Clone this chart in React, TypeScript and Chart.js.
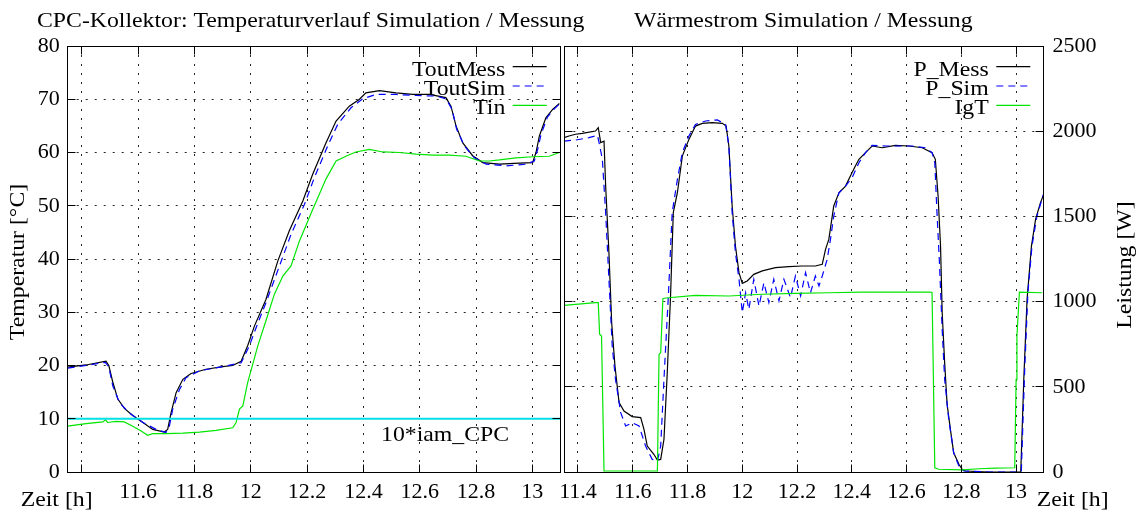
import React, { useEffect, useRef } from 'react';
import { Chart, registerables } from 'chart.js';

Chart.register(...registerables);

// ---------------- data ----------------
const X_MIN = 11.35;
const X_MAX = 13.1;
const xTickValues = [11.4, 11.6, 11.8, 12, 12.2, 12.4, 12.6, 12.8, 13];
const tempTickValues = [0, 10, 20, 30, 40, 50, 60, 70, 80];
const powerTickValues = [0, 500, 1000, 1500, 2000, 2500];

const leftTitle = 'CPC-Kollektor: Temperaturverlauf Simulation / Messung';
const rightTitle = 'Wärmestrom Simulation / Messung';
const leftYLabel = 'Temperatur [°C]';
const rightYLabel = 'Leistung [W]';
const xLabel = 'Zeit [h]';
const iamLabel = '10*iam_CPC';
const leftLegend = ['ToutMess', 'ToutSim', 'Tin'];
const rightLegend = ['P_Mess', 'P_Sim', 'IgT'];

const toutMessT = [11.35, 11.415, 11.486, 11.496, 11.51, 11.528, 11.552, 11.581, 11.617, 11.652, 11.693, 11.705, 11.717, 11.735, 11.759, 11.788, 11.841, 11.901, 11.936, 11.966, 11.989, 12.013, 12.054, 12.096, 12.137, 12.185, 12.22, 12.267, 12.303, 12.35, 12.386, 12.409, 12.457, 12.516, 12.575, 12.634, 12.693, 12.711, 12.729, 12.753, 12.788, 12.824, 12.883, 12.954, 13.001, 13.013, 13.025, 13.048, 13.072, 13.096];
const toutMessV = [19.7, 20.1, 20.8, 20.0, 16.9, 13.7, 11.9, 10.6, 9.3, 8.0, 7.5, 8.0, 11.1, 14.9, 17.4, 18.5, 19.3, 19.8, 20.0, 20.8, 23.7, 27.4, 32.4, 39.6, 45.3, 50.9, 55.9, 61.8, 65.9, 68.7, 70.0, 71.2, 71.6, 71.2, 70.9, 70.9, 70.3, 68.7, 65.0, 61.8, 59.4, 58.1, 57.8, 58.0, 58.1, 60.0, 63.1, 66.5, 68.1, 69.2];

const toutSimT = [11.35, 11.415, 11.484, 11.496, 11.51, 11.534, 11.569, 11.617, 11.664, 11.699, 11.711, 11.723, 11.747, 11.77, 11.818, 11.901, 11.966, 11.995, 12.019, 12.054, 12.102, 12.143, 12.191, 12.226, 12.273, 12.309, 12.356, 12.398, 12.445, 12.516, 12.587, 12.658, 12.693, 12.715, 12.731, 12.759, 12.794, 12.836, 12.907, 12.978, 13.007, 13.019, 13.031, 13.054, 13.078, 13.096];
const toutSimV = [19.5, 20.0, 20.6, 19.7, 16.2, 13.0, 11.1, 9.3, 8.0, 7.4, 8.6, 11.8, 15.5, 17.7, 19.0, 19.8, 20.5, 23.7, 27.1, 31.8, 38.7, 44.6, 50.3, 55.3, 61.2, 65.3, 68.4, 70.1, 70.9, 70.9, 70.7, 70.6, 70.1, 68.1, 64.4, 61.2, 59.0, 57.8, 57.5, 57.8, 58.4, 60.6, 63.4, 66.7, 68.2, 69.1];

const tinT = [11.345, 11.35, 11.415, 11.475, 11.484, 11.492, 11.522, 11.551, 11.581, 11.611, 11.634, 11.652, 11.699, 11.759, 11.818, 11.877, 11.936, 11.948, 11.96, 11.972, 11.989, 12.007, 12.025, 12.054, 12.084, 12.114, 12.143, 12.173, 12.22, 12.267, 12.303, 12.338, 12.373, 12.421, 12.469, 12.528, 12.587, 12.646, 12.705, 12.764, 12.812, 12.847, 12.883, 12.942, 13.001, 13.06, 13.096];
const tinV = [8.5, 8.6, 9.1, 9.4, 9.8, 9.3, 9.5, 9.4, 8.6, 7.7, 6.9, 7.2, 7.2, 7.3, 7.5, 7.8, 8.3, 9.3, 11.8, 12.4, 16.8, 20.2, 23.7, 28.4, 33.4, 36.8, 38.7, 43.4, 49.3, 55.0, 58.4, 59.3, 60.1, 60.6, 60.1, 60.0, 59.7, 59.5, 59.5, 59.3, 58.4, 58.4, 58.6, 59.0, 59.2, 59.3, 60.0];

const iamT = [11.35, 13.1];
const iamV = [10, 10];

const pMessT = [11.349, 11.367, 11.391, 11.416, 11.464, 11.474, 11.483, 11.495, 11.501, 11.513, 11.523, 11.535, 11.55, 11.568, 11.598, 11.629, 11.641, 11.653, 11.677, 11.69, 11.702, 11.714, 11.726, 11.738, 11.748, 11.763, 11.781, 11.805, 11.829, 11.854, 11.89, 11.927, 11.941, 11.951, 11.963, 11.975, 11.988, 12.0, 12.018, 12.042, 12.073, 12.121, 12.17, 12.219, 12.267, 12.292, 12.304, 12.316, 12.334, 12.353, 12.377, 12.401, 12.413, 12.426, 12.45, 12.474, 12.511, 12.559, 12.608, 12.657, 12.693, 12.705, 12.715, 12.724, 12.73, 12.739, 12.748, 12.76, 12.772, 12.791, 12.803, 12.815, 12.9, 13.009, 13.017, 13.028, 13.04, 13.056, 13.071, 13.089, 13.101];
const pMessV = [1962, 1972, 1982, 1987, 2001, 2021, 1933, 1942, 1678, 1287, 876, 622, 407, 358, 325, 319, 250, 152, 104, 70, 74, 192, 583, 1033, 1522, 1639, 1854, 1952, 2030, 2046, 2050, 2046, 2030, 1913, 1561, 1326, 1170, 1107, 1121, 1160, 1180, 1199, 1205, 1209, 1209, 1219, 1307, 1365, 1561, 1639, 1678, 1757, 1796, 1835, 1874, 1913, 1903, 1917, 1913, 1903, 1874, 1835, 1620, 1326, 935, 642, 397, 250, 113, 45, 16, 6, 0, 0, 0, 544, 1013, 1326, 1483, 1581, 1630];

const pSimT = [11.349, 11.391, 11.44, 11.471, 11.477, 11.489, 11.501, 11.513, 11.525, 11.537, 11.556, 11.574, 11.598, 11.623, 11.647, 11.671, 11.69, 11.702, 11.714, 11.73, 11.744, 11.763, 11.781, 11.805, 11.829, 11.866, 11.909, 11.939, 11.951, 11.963, 11.975, 11.988, 12.0, 12.012, 12.024, 12.042, 12.061, 12.079, 12.097, 12.115, 12.134, 12.152, 12.176, 12.194, 12.213, 12.231, 12.249, 12.267, 12.28, 12.292, 12.31, 12.322, 12.334, 12.353, 12.377, 12.401, 12.426, 12.45, 12.474, 12.523, 12.572, 12.62, 12.669, 12.693, 12.703, 12.711, 12.72, 12.73, 12.739, 12.754, 12.772, 12.791, 12.809, 12.9, 13.012, 13.019, 13.031, 13.043, 13.058, 13.076, 13.1];
const pSimV = [1942, 1948, 1962, 1976, 1933, 1835, 1522, 1131, 739, 544, 348, 270, 289, 270, 152, 74, 64, 152, 544, 1033, 1522, 1717, 1874, 1972, 2040, 2060, 2066, 2040, 1913, 1522, 1287, 1131, 935, 1052, 955, 1131, 974, 1111, 994, 1131, 1004, 1131, 1023, 1150, 1033, 1170, 1052, 1150, 1092, 1150, 1248, 1365, 1502, 1639, 1678, 1727, 1815, 1874, 1917, 1913, 1913, 1913, 1903, 1874, 1815, 1522, 1228, 837, 544, 309, 113, 35, 6, 0, 0, 0, 587, 1052, 1326, 1502, 1630];

const igtT = [11.345, 11.349, 11.464, 11.474, 11.479, 11.486, 11.495, 11.586, 11.69, 11.696, 11.702, 11.71, 11.72, 11.829, 11.951, 12.073, 12.194, 12.316, 12.438, 12.559, 12.687, 12.693, 12.703, 12.717, 12.803, 12.864, 12.924, 12.995, 13.0, 13.003, 13.012, 13.095];
const igtV = [974, 978, 994, 994, 808, 798, 6, 6, 6, 690, 700, 1017, 1021, 1037, 1033, 1043, 1048, 1052, 1056, 1056, 1056, 1052, 25, 16, 12, 19, 23, 25, 544, 798, 1056, 1052];

// ---------------- styling ----------------
const FONT = 'Liberation Serif';
const FONT_SIZE = 22;
const TEXT_SX = 1.08;
const C_BLACK = '#000000';
const C_BLUE = '#0000ff';
const C_GREEN = '#00e600';
const C_CYAN = '#00e0e6';
const PAGE_H = 514;

const pts = (t: number[], v: number[]) => t.map((x, i) => ({ x, y: v[i] }));
const fmt = (v: number) => String(Number(v.toFixed(1)));
const crisp = (p: number) => Math.round(p - 0.5) + 0.5;

function drawText(ctx: CanvasRenderingContext2D, s: string, x: number, y: number, align: CanvasTextAlign, baseline: CanvasTextBaseline = 'alphabetic', rotate = false) {
  ctx.save();
  ctx.translate(x, y);
  if (rotate) ctx.rotate(-Math.PI / 2);
  ctx.scale(TEXT_SX, 1);
  ctx.font = `${FONT_SIZE}px "${FONT}"`;
  ctx.fillStyle = '#000';
  ctx.textAlign = align;
  ctx.textBaseline = baseline;
  ctx.fillText(s, 0, 0);
  ctx.restore();
}

type TextItem = { s: string; x: number; y: number; align: CanvasTextAlign; baseline?: CanvasTextBaseline; rotate?: boolean };
type DecorOpts = {
  offsetX: number;
  texts: TextItem[];
  legendLabels: string[];
  legendTextRight: number;
  legendLineX0: number;
  legendLineX1: number;
  legendLineY: number[];
};

function decorPlugin(o: DecorOpts) {
  return {
    id: 'decor',
    beforeDatasetsDraw(chart: any) {
      const { ctx, chartArea: a } = chart;
      const xs = chart.scales.x;
      const ys = chart.scales.y;
      ctx.save();
      ctx.strokeStyle = 'rgba(0,0,0,0.85)';
      ctx.lineWidth = 1;
      ctx.setLineDash([2, 7]);
      xs.ticks.forEach((t: any) => {
        const px = crisp(xs.getPixelForValue(t.value));
        ctx.beginPath();
        ctx.moveTo(px, a.top);
        ctx.lineTo(px, a.bottom);
        ctx.stroke();
      });
      ys.ticks.forEach((t: any) => {
        const py = crisp(ys.getPixelForValue(t.value));
        if (py < a.top + 2 || py > a.bottom - 2) return;
        ctx.beginPath();
        ctx.moveTo(a.left, py);
        ctx.lineTo(a.right, py);
        ctx.stroke();
      });
      ctx.restore();
    },
    afterDatasetsDraw(chart: any) {
      const { ctx, chartArea: a } = chart;
      const xs = chart.scales.x;
      const ys = chart.scales.y;
      const L = crisp(a.left), R = crisp(a.right), T = crisp(a.top), B = crisp(a.bottom);
      ctx.save();
      ctx.strokeStyle = '#000';
      ctx.lineWidth = 1;
      ctx.setLineDash([]);
      ctx.strokeRect(L, T, R - L, B - T);
      const tl = 8;
      xs.ticks.forEach((t: any) => {
        const px = crisp(xs.getPixelForValue(t.value));
        ctx.beginPath();
        ctx.moveTo(px, B); ctx.lineTo(px, B - tl);
        ctx.moveTo(px, T); ctx.lineTo(px, T + tl);
        ctx.stroke();
      });
      ys.ticks.forEach((t: any) => {
        const py = crisp(ys.getPixelForValue(t.value));
        ctx.beginPath();
        ctx.moveTo(L, py); ctx.lineTo(L + tl, py);
        ctx.moveTo(R, py); ctx.lineTo(R - tl, py);
        ctx.stroke();
      });
      // legend
      chart.data.datasets.slice(0, o.legendLabels.length).forEach((ds: any, i: number) => {
        const y = o.legendLineY[i];
        drawText(ctx, o.legendLabels[i], o.legendTextRight - o.offsetX, y + 8.8, 'right');
        ctx.save();
        ctx.strokeStyle = ds.borderColor;
        ctx.lineWidth = ds.borderWidth;
        ctx.setLineDash(ds.borderDash || []);
        ctx.beginPath();
        ctx.moveTo(o.legendLineX0 - o.offsetX, y);
        ctx.lineTo(o.legendLineX1 - o.offsetX, y);
        ctx.stroke();
        ctx.restore();
      });
      ctx.restore();
      o.texts.forEach((t) => drawText(ctx, t.s, t.x - o.offsetX, t.y, t.align, t.baseline || 'alphabetic', !!t.rotate));
    },
  };
}

const tickFont = { family: FONT, size: FONT_SIZE };

function makeX(hideFirst: boolean) {
  return {
    type: 'linear',
    min: X_MIN,
    max: X_MAX,
    afterBuildTicks: (s: any) => { s.ticks = xTickValues.map((value) => ({ value })); },
    afterFit: (s: any) => { s.height = 42; },
    grid: { display: false, drawTicks: false },
    border: { display: false },
    ticks: {
      padding: 7,
      color: '#000',
      font: tickFont,
      autoSkip: false,
      maxRotation: 0,
      minRotation: 0,
      callback: (v: number) => (hideFirst && v === xTickValues[0] ? '' : fmt(v)),
    },
  };
}

const LEFT_CANVAS = { x: 0, w: 600 };
const RIGHT_CANVAS = { x: 540, w: 599 };
const LEFT_PLOT = { left: 67.7, right: 560.5 };
const RIGHT_PLOT = { left: 564.3, right: 1043.5 };

export default function App() {
  const leftRef = useRef<HTMLCanvasElement>(null);
  const rightRef = useRef<HTMLCanvasElement>(null);

  useEffect(() => {
    const lineDs = (label: string, t: number[], v: number[], color: string, width: number, order: number, dash?: number[]) => ({
      label,
      data: pts(t, v),
      borderColor: color,
      backgroundColor: color,
      borderWidth: width,
      borderDash: dash || [],
      pointRadius: 0,
      tension: 0,
      fill: false,
      order,
    });

    const left = new Chart(leftRef.current as HTMLCanvasElement, {
      type: 'line',
      data: {
        datasets: [
          lineDs(leftLegend[0], toutMessT, toutMessV, C_BLACK, 1.2, 4),
          lineDs(leftLegend[1], toutSimT, toutSimV, C_BLUE, 1.2, 3, [7, 5]),
          lineDs(leftLegend[2], tinT, tinV, C_GREEN, 1.2, 2),
          lineDs(iamLabel, iamT, iamV, C_CYAN, 2, 1),
        ],
      },
      options: {
        animation: false,
        responsive: false,
        devicePixelRatio: 1,
        layout: { padding: { left: 0, right: LEFT_CANVAS.w - LEFT_PLOT.right, top: 46, bottom: 0 } },
        plugins: { legend: { display: false }, title: { display: false }, tooltip: { enabled: false } },
        scales: {
          x: makeX(true),
          y: {
            type: 'linear',
            min: 0,
            max: 80,
            afterBuildTicks: (s: any) => { s.ticks = tempTickValues.map((value) => ({ value })); },
            afterFit: (s: any) => { s.width = LEFT_PLOT.left - LEFT_CANVAS.x; },
            grid: { display: false, drawTicks: false },
            border: { display: false },
            ticks: { padding: 8, color: '#000', font: tickFont, callback: (v: number) => String(v) },
          },
        },
      } as any,
      plugins: [
        decorPlugin({
          offsetX: LEFT_CANVAS.x,
          texts: [
            { s: leftTitle, x: 37, y: 26.5, align: 'left' },
            { s: leftYLabel, x: 18, y: 262, align: 'center', baseline: 'middle', rotate: true },
            { s: xLabel, x: 20.7, y: 506, align: 'left' },
            { s: iamLabel, x: 381, y: 441, align: 'left' },
          ],
          legendLabels: leftLegend,
          legendTextRight: 505.3,
          legendLineX0: 512.7,
          legendLineX1: 546.7,
          legendLineY: [66.7, 86, 105.3],
        }),
      ],
    });

    const right = new Chart(rightRef.current as HTMLCanvasElement, {
      type: 'line',
      data: {
        datasets: [
          lineDs(rightLegend[0], pMessT, pMessV, C_BLACK, 1.2, 3),
          lineDs(rightLegend[1], pSimT, pSimV, C_BLUE, 1.2, 2, [7, 5]),
          lineDs(rightLegend[2], igtT, igtV, C_GREEN, 1.2, 1),
        ],
      },
      options: {
        animation: false,
        responsive: false,
        devicePixelRatio: 1,
        layout: { padding: { left: RIGHT_PLOT.left - RIGHT_CANVAS.x, right: 0, top: 46, bottom: 0 } },
        plugins: { legend: { display: false }, title: { display: false }, tooltip: { enabled: false } },
        scales: {
          x: makeX(false),
          y: {
            type: 'linear',
            position: 'right',
            min: 0,
            max: 2500,
            afterBuildTicks: (s: any) => { s.ticks = powerTickValues.map((value) => ({ value })); },
            afterFit: (s: any) => { s.width = RIGHT_CANVAS.x + RIGHT_CANVAS.w - RIGHT_PLOT.right; },
            grid: { display: false, drawTicks: false },
            border: { display: false },
            ticks: { padding: 9, color: '#000', font: tickFont, callback: (v: number) => String(v) },
          },
        },
      } as any,
      plugins: [
        decorPlugin({
          offsetX: RIGHT_CANVAS.x,
          texts: [
            { s: rightTitle, x: 634, y: 26.5, align: 'left' },
            { s: rightYLabel, x: 1125, y: 265, align: 'center', baseline: 'middle', rotate: true },
            { s: xLabel, x: 1036.7, y: 506, align: 'left' },
          ],
          legendLabels: rightLegend,
          legendTextRight: 988.7,
          legendLineX0: 996.3,
          legendLineX1: 1030.3,
          legendLineY: [66.7, 86, 105.3],
        }),
      ],
    });

    return () => {
      left.destroy();
      right.destroy();
    };
  }, []);

  return (
    <div style={{ position: 'fixed', left: 0, top: 0, width: 1139, height: PAGE_H, background: '#fff', overflow: 'hidden' }}>
      <canvas ref={leftRef} width={LEFT_CANVAS.w} height={PAGE_H} style={{ position: 'absolute', left: LEFT_CANVAS.x, top: 0, width: LEFT_CANVAS.w, height: PAGE_H }} />
      <canvas ref={rightRef} width={RIGHT_CANVAS.w} height={PAGE_H} style={{ position: 'absolute', left: RIGHT_CANVAS.x, top: 0, width: RIGHT_CANVAS.w, height: PAGE_H }} />
    </div>
  );
}
